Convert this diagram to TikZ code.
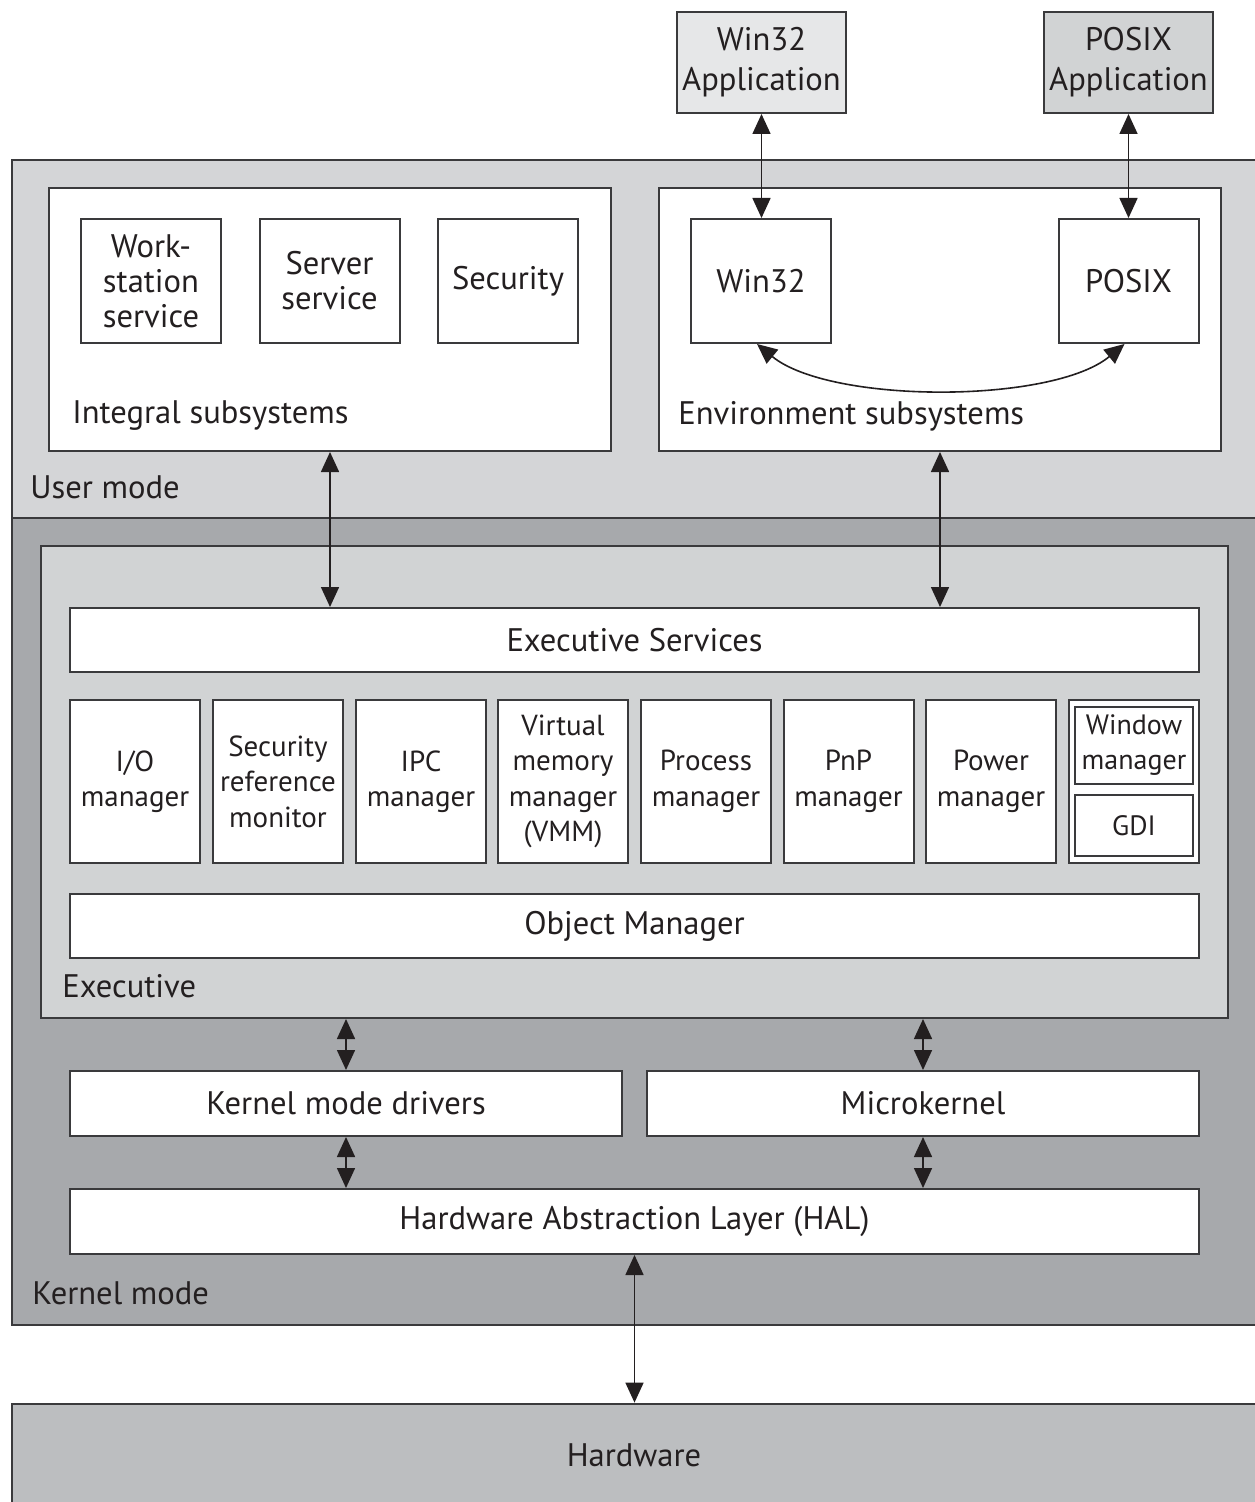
\documentclass[tikz,border=0pt]{standalone}
\usepackage{fontspec}
\setmainfont{PT Sans}
\usetikzlibrary{arrows.meta}
\definecolor{usergray}{HTML}{D4D5D7}
\definecolor{kerngray}{HTML}{A7A9AC}
\definecolor{execgray}{HTML}{D1D3D4}
\definecolor{hwgray}{HTML}{BCBEC0}
\definecolor{appA}{HTML}{E6E7E8}
\definecolor{appB}{HTML}{D1D3D4}
\definecolor{ink}{HTML}{231F20}
\definecolor{edge}{HTML}{3A3A3C}
\begin{document}
\begin{tikzpicture}[x=0.5pt,y=-0.5pt,
  box/.style={draw=edge, line width=1pt, fill=white, rectangle, inner sep=0pt, align=center, text=ink, font=\fontsize{16.3}{17.5}\selectfont},
  appbox/.style={box, minimum width=84.5pt, minimum height=50.5pt, font=\fontsize{16.3}{20}\selectfont},
  mgr/.style={box, minimum width=65pt, minimum height=81.5pt, font=\fontsize{14.5}{17.7}\selectfont},
  dbl/.style={{Triangle[length=10pt,width=9pt]}-{Triangle[length=10pt,width=9pt]}, line width=0.8pt, draw=ink},
  lbl/.style={anchor=west, inner sep=0pt, text=ink, font=\fontsize{16.3}{17.5}\selectfont},
  band/.style={draw=edge, line width=1.4pt}]
\useasboundingbox (0,0) rectangle (1254,1502);

% bands
\path[band, fill=usergray] (12,160) rectangle (1275,518);
\path[band, fill=kerngray] (12,518) rectangle (1275,1325);

% applications
\node[appbox, fill=appA] (w32app) at (761.5,62.5) {Win32\\Application};
\node[appbox, fill=appB] (pxapp) at (1128.5,62.5) {POSIX\\Application};

% user mode
\node[box, minimum width=281pt, minimum height=131.5pt] (intsub) at (330,319.5) {};
\node[box, minimum width=281pt, minimum height=131.5pt] (envsub) at (940,319.5) {};
\node[box, minimum width=70pt, minimum height=62pt] (ws) at (151,281) {Work-\\station\\service};
\node[box, minimum width=70pt, minimum height=62pt] (srv) at (329.5,281) {Server\\service};
\node[box, minimum width=70pt, minimum height=62pt] (sec) at (508,281) {Security};
\node[box, minimum width=70pt, minimum height=62pt] (w32) at (761,281) {Win32};
\node[box, minimum width=70pt, minimum height=62pt] (px) at (1128.5,281) {POSIX};
\node[lbl] (intlbl) at (72,416) {Integral subsystems};
\node[lbl] (envlbl) at (678,416) {Environment subsystems};
\node[lbl] (userlbl) at (30,487) {User mode};

% executive
\node[box, fill=execgray, minimum width=593.5pt, minimum height=236pt] (exec) at (634.5,782) {};
\node[box, minimum width=564.5pt, minimum height=32pt] (es) at (634.5,640) {Executive Services};
\node[mgr] (io) at (135,781.5) {I/O\\manager};
\node[mgr] (srm) at (278,781.5) {Security\\reference\\monitor};
\node[mgr] (ipc) at (421,781.5) {IPC\\manager};
\node[mgr] (vmm) at (563,781.5) {Virtual\\memory\\manager\\(VMM)};
\node[mgr] (proc) at (706,781.5) {Process\\manager};
\node[mgr] (pnp) at (848.5,781.5) {PnP\\manager};
\node[mgr] (pow) at (991,781.5) {Power\\manager};
\node[mgr] (wg) at (1134,781.5) {};
\node[box, minimum width=59pt, minimum height=38.5pt, font=\fontsize{14}{17.5}\selectfont] (winmgr) at (1134,745.5) {Window\\manager};
\node[box, minimum width=59pt, minimum height=30.5pt, font=\fontsize{14}{17.5}\selectfont] (gdi) at (1134,825.5) {GDI};
\node[box, minimum width=564.5pt, minimum height=32pt] (om) at (634.5,926) {Object Manager};
\node[lbl] (execlbl) at (62,986) {Executive};

% kernel
\node[box, minimum width=276pt, minimum height=32.5pt] (kmd) at (346,1103.5) {Kernel mode drivers};
\node[box, minimum width=276pt, minimum height=32.5pt] (mk) at (923,1103.5) {Microkernel};
\node[box, minimum width=564.5pt, minimum height=32.5pt] (hal) at (634.5,1221.5) {Hardware Abstraction Layer (HAL)};
\node[lbl] (kernlbl) at (32,1293) {Kernel mode};

% hardware
\node[box, fill=hwgray, line width=1.4pt, minimum width=622pt, minimum height=51pt] (hw) at (634,1455) {Hardware};

% connectors
\draw[dbl] (w32app.south) -- (w32app.south |- w32.north);
\draw[dbl] (pxapp.south) -- (px.north);
\draw[dbl] ([xshift=-2pt]w32.south) .. controls (830,404) and (1052,404) .. ([xshift=-2pt]px.south);
\draw[dbl] (intsub.south) -- (intsub.south |- es.north);
\draw[dbl] (envsub.south) -- (envsub.south |- es.north);
\draw[dbl] (kmd.north |- exec.south) -- (kmd.north);
\draw[dbl] (mk.north |- exec.south) -- (mk.north);
\draw[dbl] (kmd.south) -- (kmd.south |- hal.north);
\draw[dbl] (mk.south) -- (mk.south |- hal.north);
\draw[dbl] (hal.south) -- (hal.south |- hw.north);
\end{tikzpicture}
\end{document}
